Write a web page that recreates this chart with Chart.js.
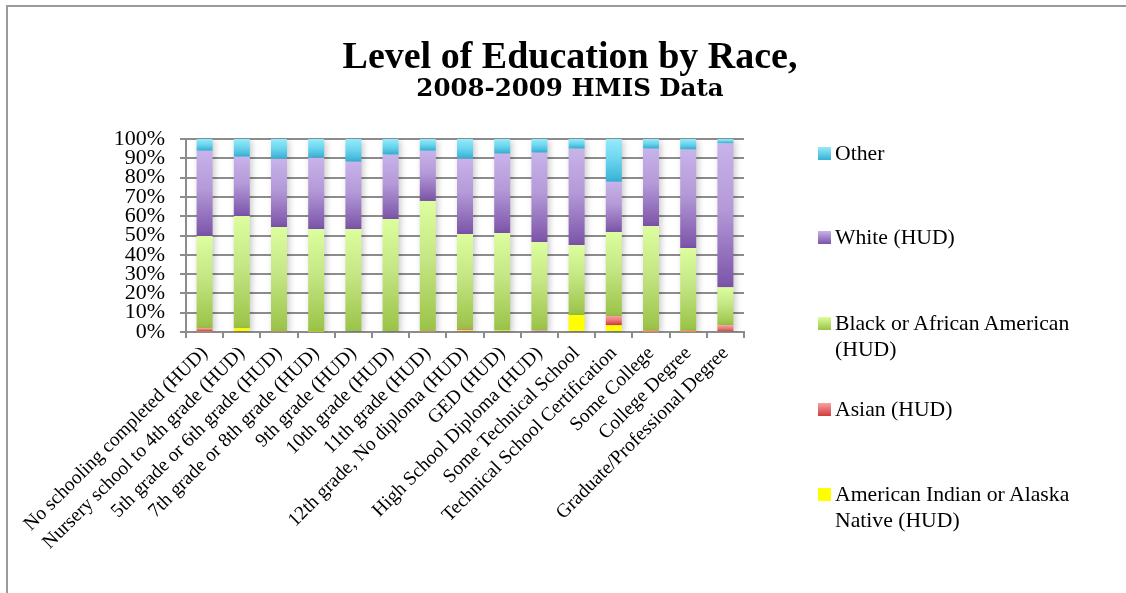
<!DOCTYPE html>
<html>
<head>
<meta charset="utf-8">
<script src="https://cdn.jsdelivr.net/npm/chart.js@4/dist/chart.umd.min.js"></script>
<style>
  html, body { margin: 0; padding: 0; background: #fff; }
  #wrap { position: relative; width: 1126px; height: 593px; overflow: hidden; font-family: "Liberation Serif", serif; }
  #frame { position: absolute; left: 6px; top: 5px; width: 1200px; height: 700px; border-left: 2px solid #9a9a9a; border-top: 2px solid #9a9a9a; }
  #c { position: absolute; left: 0; top: 0; }
  .title { position: absolute; left: 0; width: 1140px; text-align: center; font-weight: bold; color: #000; line-height: 1; white-space: nowrap; }
  #t1 { top: 36px; font-size: 38px; }
  #t2 { top: 76px; font-size: 24.5px; font-family: "DejaVu Serif", serif; }
  .lg { position: absolute; left: 818px; width: 300px; font-size: 21.7px; line-height: 26px; color: #000; }
  .lg .sw { position: absolute; left: 0; top: 7px; width: 13px; height: 13px; }
  .lg .tx { position: absolute; left: 17px; top: 0; width: 268px; }
</style>
</head>
<body>
<div id="wrap">
  <div id="frame"></div>
  <canvas id="c" width="1126" height="593"></canvas>
  <div class="title" id="t1">Level of Education by Race,</div>
  <div class="title" id="t2">2008-2009 HMIS Data</div>
  <div id="legend"></div>
</div>
<script>
const categories = [
  "No schooling completed (HUD)",
  "Nursery school to 4th grade (HUD)",
  "5th grade or 6th grade (HUD)",
  "7th grade or 8th grade (HUD)",
  "9th grade (HUD)",
  "10th grade (HUD)",
  "11th grade (HUD)",
  "12th grade, No diploma (HUD)",
  "GED (HUD)",
  "High School Diploma (HUD)",
  "Some Technical School",
  "Technical School Certification",
  "Some College",
  "College Degree",
  "Graduate/Professional Degree"
];
const americanIndian = [0.4, 2.0, 0, 0.3, 0, 0, 0, 0.9, 0.8, 0, 8.8, 3.5, 0.3, 0.3, 0];
const asian          = [1.6, 0, 0.2, 0, 0, 0.5, 0.2, 0.7, 0, 0.9, 0, 4.8, 0.7, 0.7, 3.5];
const black          = [47.7, 58.1, 54.2, 53.1, 53.4, 58.1, 67.7, 49.2, 50.5, 45.7, 36.3, 43.5, 53.9, 42.5, 19.7];
const white          = [44.2, 30.7, 35.4, 36.9, 34.8, 33.3, 26.0, 39.0, 41.1, 46.3, 49.9, 26.0, 40.1, 51.0, 74.5];
const other          = [6.1, 9.2, 10.2, 9.7, 11.8, 8.1, 6.1, 10.2, 7.6, 7.1, 5.0, 22.2, 5.0, 5.5, 2.3];
const seriesNames = ["American Indian or Alaska Native (HUD)", "Asian (HUD)", "Black or African American (HUD)", "White (HUD)", "Other"];
const yTickValues = [0, 10, 20, 30, 40, 50, 60, 70, 80, 90, 100];

const palettes = [
  ["#ffff00", "#ffff00", "#ffff00"],
  ["#f7a3a3", "#ec7a7a", "#d23a3a"],
  ["#ddfe9e", "#c4e684", "#9ac246"],
  ["#c8b3ea", "#b49ad8", "#7b53a8"],
  ["#94ebfb", "#6fd6ef", "#35b2d6"]
];
const seriesData = [americanIndian, asian, black, white, other];

function gradFor(di) {
  const p = palettes[di];
  return function(ctx) {
    const chart = ctx.chart;
    const ys = chart.scales && chart.scales.y;
    if (!ys || ctx.type !== 'data' || !chart.chartArea) return p[1];
    let start = 0;
    for (let k = 0; k < di; k++) start += seriesData[k][ctx.dataIndex];
    const end = start + seriesData[di][ctx.dataIndex];
    const y0 = ys.getPixelForValue(end), y1 = ys.getPixelForValue(start);
    if (!isFinite(y0) || !isFinite(y1) || y1 - y0 < 1) return p[1];
    const g = chart.ctx.createLinearGradient(0, y0, 0, y1);
    g.addColorStop(0, p[0]);
    g.addColorStop(0.45, p[1]);
    g.addColorStop(1, p[2]);
    return g;
  };
}

const datasets = seriesNames.map((name, i) => ({
  label: name,
  data: seriesData[i],
  backgroundColor: gradFor(i),
  borderWidth: 0,
  categoryPercentage: 1.0,
  barPercentage: 0.43
}));

// HTML legend (reverse order, like the reference)
const legendTops = [481, 396, 310, 224, 140];
const lg = document.getElementById('legend');
seriesNames.forEach((name, i) => {
  const d = document.createElement('div');
  d.className = 'lg';
  d.style.top = legendTops[i] + 'px';
  const p = palettes[i];
  d.innerHTML = '<div class="sw" style="background:linear-gradient(' + p[0] + ',' + p[2] + ')"></div><div class="tx"></div>';
  d.querySelector('.tx').textContent = name;
  lg.appendChild(d);
});

const shadowPlugin = {
  id: 'barShadow',
  beforeDatasetsDraw(chart) {
    const c = chart.ctx;
    c.save();
    c.shadowColor = 'rgba(0,0,0,0.22)';
    c.shadowBlur = 6;
    c.shadowOffsetX = 2;
    c.shadowOffsetY = 2;
  },
  afterDatasetsDraw(chart) { chart.ctx.restore(); }
};

const gridColor = '#8c8c8c';
new Chart(document.getElementById('c'), {
  type: 'bar',
  data: { labels: categories, datasets: datasets },
  plugins: [shadowPlugin],
  options: {
    responsive: false,
    animation: false,
    layout: { padding: { left: 8, right: 382, top: 139, bottom: 0 } },
    plugins: { legend: { display: false }, title: { display: false }, tooltip: { enabled: false } },
    scales: {
      x: {
        stacked: true,
        afterFit: s => { s.height = 261; },
        grid: { offset: true, drawOnChartArea: false, drawTicks: true, tickLength: 6, color: gridColor, lineWidth: 2 },
        border: { display: true, color: gridColor, width: 2 },
        ticks: {
          autoSkip: false, maxRotation: 45, minRotation: 45, padding: 4,
          color: '#000', font: { family: 'Liberation Serif', size: 19.5 }
        }
      },
      y: {
        stacked: true, min: 0, max: 100,
        afterFit: s => { s.width = 178; },
        afterBuildTicks: s => { s.ticks = yTickValues.map(v => ({ value: v })); },
        grid: { color: gridColor, lineWidth: 2, tickLength: 6 },
        border: { display: true, color: gridColor, width: 2 },
        ticks: {
          autoSkip: false, padding: 15, color: '#000',
          font: { family: 'Liberation Serif', size: 22 },
          callback: v => v + '%'
        }
      }
    }
  }
});
</script>
</body>
</html>
